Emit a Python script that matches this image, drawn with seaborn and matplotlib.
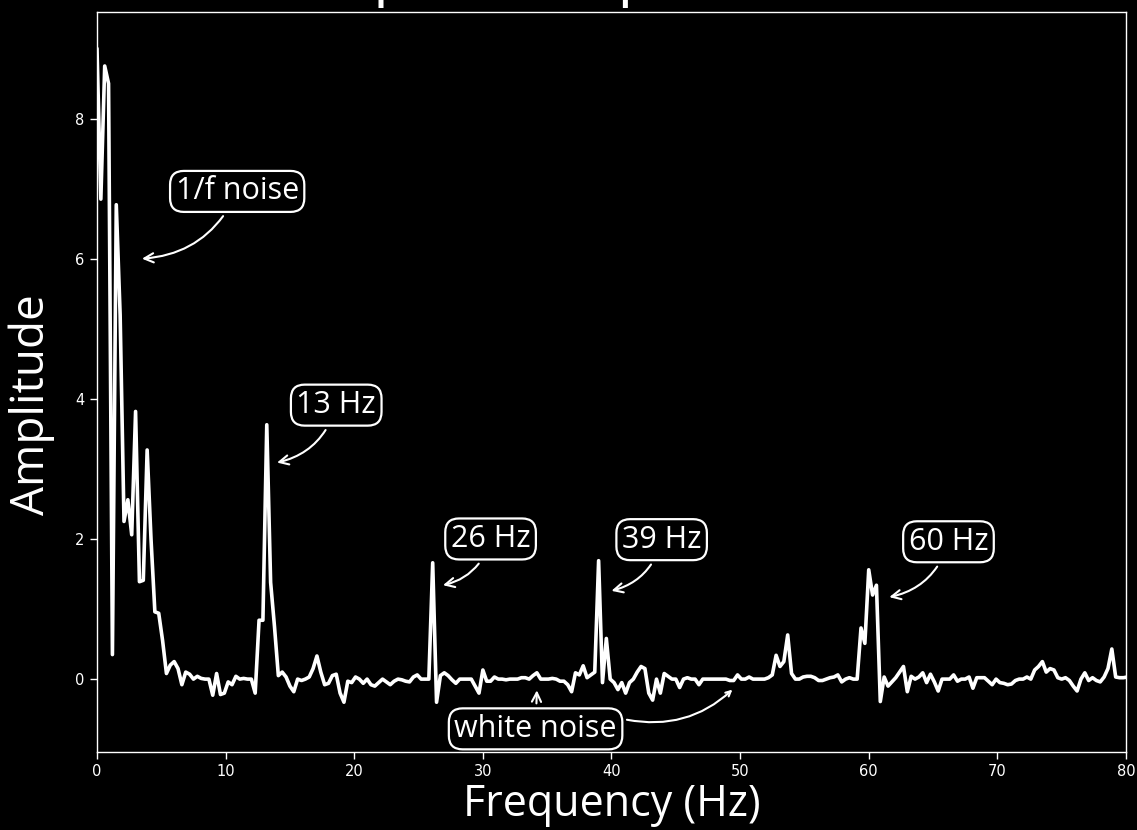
import numpy as np
import pandas as pd
import seaborn as sns
import matplotlib
matplotlib.use("Agg")
import matplotlib.pyplot as plt

# ---- data ----
FREQ_STEP = 0.3  # Hz between spectrum bins
amplitude = [
    9.0, 6.85, 8.75, 8.5, 0.35, 6.77, 5.2, 2.25, 2.56, 2.06,
    3.82, 1.39, 1.41, 3.27, 2.0, 0.96, 0.94, 0.55, 0.08, 0.2,
    0.25, 0.15, -0.08, 0.1, 0.07, 0.0, 0.04, 0.01, 0.0, 0.0,
    -0.23, 0.08, -0.22, -0.2, -0.04, -0.08, 0.04, 0.0, 0.01, 0.0,
    0.0, -0.2, 0.84, 0.84, 3.63, 1.38, 0.75, 0.05, 0.1, 0.03,
    -0.1, -0.18, 0.0, -0.02, 0.0, 0.03, 0.15, 0.33, 0.1, -0.08,
    -0.06, 0.05, 0.07, -0.2, -0.33, -0.03, -0.05, 0.03, 0.0, -0.06,
    0.0, -0.08, -0.1, -0.05, 0.0, -0.04, -0.08, -0.03, 0.0, -0.01,
    -0.03, -0.04, 0.03, 0.06, 0.0, 0.0, 0.0, 1.66, -0.33, 0.05,
    0.09, 0.05, -0.01, -0.06, 0.0, 0.0, 0.0, 0.0, -0.1, -0.2,
    0.13, -0.03, -0.03, 0.03, 0.0, 0.0, -0.01, 0.0, 0.0, 0.0,
    0.02, 0.02, 0.0, 0.05, 0.09, 0.0, 0.0, 0.0, 0.01, 0.0,
    -0.03, -0.03, -0.08, -0.18, 0.09, 0.06, 0.19, 0.02, 0.06, 0.1,
    1.69, -0.05, 0.58, 0.0, -0.05, -0.15, -0.05, -0.2, -0.05, 0.0,
    0.1, 0.18, 0.15, -0.2, -0.3, 0.0, -0.2, 0.08, 0.04, 0.0,
    0.0, -0.12, 0.0, 0.02, 0.0, 0.0, -0.08, 0.0, 0.0, 0.0,
    0.0, 0.0, 0.0, 0.0, -0.02, -0.02, 0.06, 0.0, 0.0, 0.03,
    0.0, 0.0, 0.0, 0.0, 0.02, 0.06, 0.34, 0.18, 0.25, 0.63,
    0.08, 0.0, 0.0, 0.03, 0.04, 0.04, 0.02, -0.02, -0.02, 0.0,
    0.02, 0.03, 0.06, -0.04, 0.0, 0.02, 0.0, 0.0, 0.73, 0.51,
    1.56, 1.2, 1.34, -0.32, 0.03, -0.1, -0.04, 0.02, 0.1, 0.18,
    -0.18, 0.04, 0.0, 0.03, 0.09, -0.05, 0.07, -0.04, -0.17, 0.0,
    0.0, 0.0, 0.06, -0.03, 0.0, 0.0, 0.03, -0.13, 0.02, 0.02,
    0.02, -0.03, -0.08, 0.0, -0.05, -0.06, -0.08, -0.07, -0.02, 0.0,
    0.0, 0.03, 0.0, 0.13, 0.18, 0.25, 0.1, 0.15, 0.13, 0.02,
    0.0, 0.02, -0.02, -0.1, -0.17, 0.0, 0.09, -0.02, 0.02, -0.02,
    -0.04, 0.03, 0.15, 0.43, 0.03, 0.02, 0.02, 0.03, 0.02,
]
frequency = np.arange(len(amplitude)) * FREQ_STEP

x_ticks = [0, 10, 20, 30, 40, 50, 60, 70, 80]
y_ticks = [0, 2, 4, 6, 8]

# annotation labels: (text, text position, arrow tip)
labels = ["1/f noise", "13 Hz", "26 Hz", "39 Hz", "60 Hz", "white noise"]
label_pos = [(10.9, 6.96), (18.6, 3.91), (30.6, 2.0), (43.9, 1.99), (66.2, 1.96), (34.1, -0.71)]
arrow_tip = [(3.5, 6.0), (14.0, 3.09), (26.9, 1.34), (40.0, 1.26), (61.6, 1.17), (34.2, -0.16)]
extra_arrow_start = (41.2, -0.58)
extra_arrow_tip = (49.4, -0.15)

df = pd.DataFrame({"Frequency (Hz)": frequency, "Amplitude": amplitude})

# ---- style ----
sns.set_theme(style="dark", rc={
    "figure.facecolor": "black",
    "axes.facecolor": "black",
    "axes.edgecolor": "white",
    "axes.labelcolor": "white",
    "text.color": "white",
    "xtick.color": "white",
    "ytick.color": "white",
    "xtick.bottom": True,
    "ytick.left": True,
})
plt.rcParams["font.family"] = ["DejaVu Sans"]

fig = plt.figure(figsize=(11.37, 8.3), dpi=100)
ax = fig.add_axes([0.0853, 0.094, 0.9050, 0.8915])

sns.lineplot(data=df, x="Frequency (Hz)", y="Amplitude", ax=ax,
             color="white", linewidth=2.6)

ax.set_xlim(0, 80)
ax.set_ylim(-1.04, 9.52)
ax.set_xticks(x_ticks)
ax.set_yticks(y_ticks)
ax.tick_params(axis="both", direction="out", length=5, width=1, labelsize=10.5,
               colors="white", pad=4)
for s in ax.spines.values():
    s.set_color("white")
    s.set_linewidth(1.0)

lab_font = dict(family="Open Sans", color="white")
ax.set_xlabel("Frequency (Hz)", labelpad=2, size=31, **lab_font)
ax.set_ylabel("Amplitude", size=33, **lab_font)
ax.yaxis.set_label_coords(-0.041, 0.47)

fig.text(0.5, 1.0 + 6 / 830, "Amplitude spectrum", ha="center", va="baseline",
         family="Open Sans", size=44, color="white")

box = dict(boxstyle="round,pad=0.18,rounding_size=0.45", fc="black", ec="white", lw=1.6)
for i, (txt, pos, tip) in enumerate(zip(labels, label_pos, arrow_tip)):
    rad = 0.0 if txt == "white noise" else -0.3
    ax.annotate(txt, xy=tip, xytext=pos, ha="center", va="center",
                family="Open Sans", size=22, color="white", bbox=box,
                arrowprops=dict(arrowstyle="->,head_length=0.3,head_width=0.15",
                                color="white", lw=1.5, shrinkA=3, shrinkB=0,
                                connectionstyle=f"arc3,rad={rad}"))
ax.annotate("", xy=extra_arrow_tip, xytext=extra_arrow_start,
            arrowprops=dict(arrowstyle="->,head_length=0.3,head_width=0.15",
                            color="white", lw=1.5, shrinkA=0, shrinkB=0,
                            connectionstyle="arc3,rad=0.25"))

fig.savefig("out.png", dpi=100, facecolor="black")
